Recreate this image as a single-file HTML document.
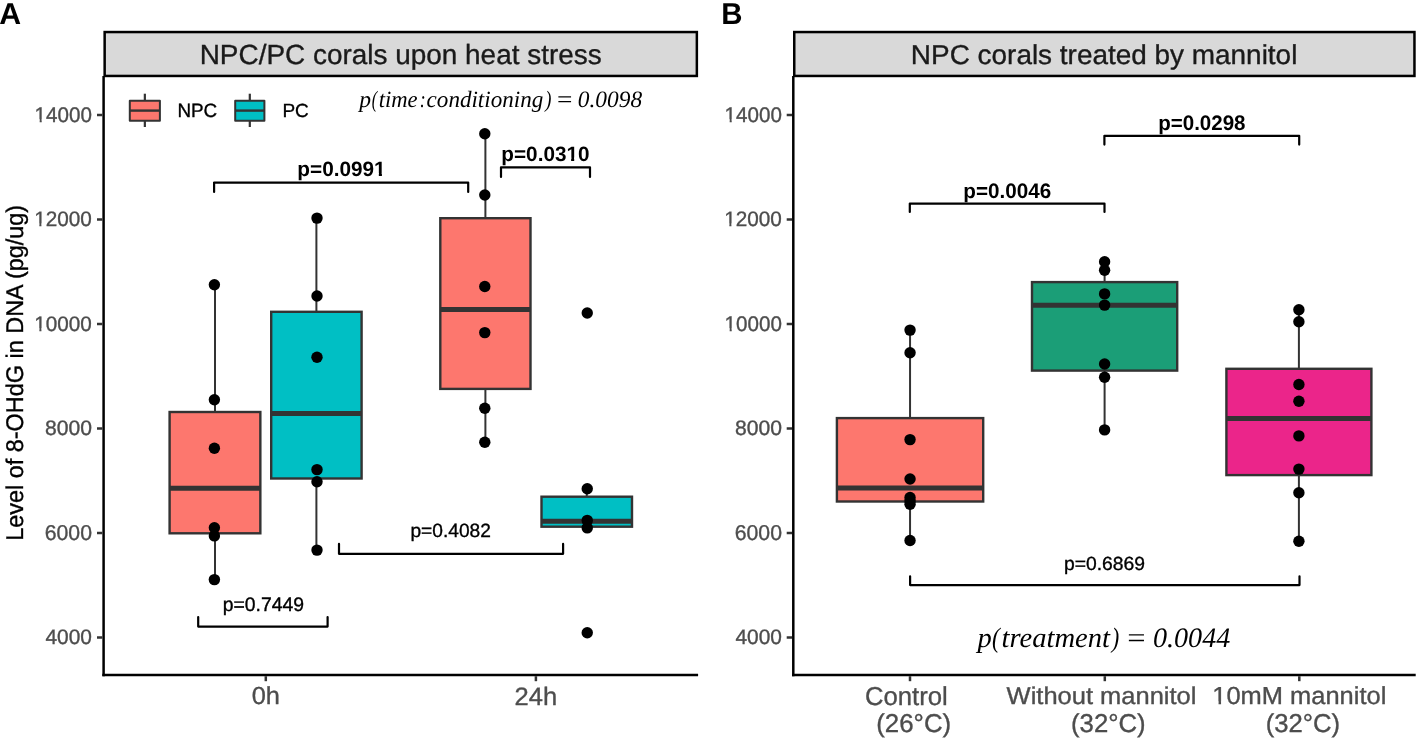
<!DOCTYPE html><html><head><meta charset="utf-8"><title>8-OHdG boxplots</title><style>html,body{margin:0;padding:0;background:#fff;overflow:hidden}svg{display:block;will-change:transform}text{text-rendering:geometricPrecision}</style></head><body>
<svg width="1418" height="741" viewBox="0 0 1418 741">
<rect width="1418" height="741" fill="#fff"/>
<text transform="translate(721.24,23.72) scale(0.9762,1)" font-family="Liberation Sans" font-size="30.124" font-weight="bold" font-style="normal" fill="#000">B</text>
<text transform="translate(-0.76,23.90) scale(1.0044,1)" font-family="Liberation Sans" font-size="30.133" font-weight="bold" font-style="normal" fill="#000">A</text>
<rect x="104.65" y="32.05" width="592.20" height="43.9" fill="#D9D9D9" stroke="#000" stroke-width="2.5"/>
<text transform="translate(199.67,63.76) scale(1.0046,1)" font-family="Liberation Sans" font-size="27.807" font-weight="normal" font-style="normal" fill="#1A1A1A" stroke="#1A1A1A" stroke-width="0.35">NPC/PC corals upon heat stress</text>
<line x1="103.6" y1="76" x2="103.6" y2="676.25" stroke="#000000" stroke-width="2.5" stroke-linecap="butt"/>
<line x1="102.35" y1="675" x2="698.1" y2="675" stroke="#000000" stroke-width="2.5" stroke-linecap="butt"/>
<line x1="97.0" y1="115" x2="102.35" y2="115" stroke="#333333" stroke-width="2.5" stroke-linecap="butt"/>
<g transform="translate(34.60,121.93) scale(0.9751,1)"><text id="one1" font-family="Liberation Sans" font-size="21.136" font-weight="normal" font-style="normal" fill="#4D4D4D" stroke="#4D4D4D" stroke-width="0.36">14000</text><rect x="0.51" y="-2.68" width="4.68" height="3.78" fill="#fff"/><rect x="7.30" y="-2.68" width="4.52" height="3.78" fill="#fff"/></g>
<line x1="97.0" y1="219.5" x2="102.35" y2="219.5" stroke="#333333" stroke-width="2.5" stroke-linecap="butt"/>
<g transform="translate(34.24,226.15) scale(0.9924,1)"><text id="one2" font-family="Liberation Sans" font-size="20.909" font-weight="normal" font-style="normal" fill="#4D4D4D" stroke="#4D4D4D" stroke-width="0.35">12000</text><rect x="0.49" y="-2.66" width="4.65" height="3.76" fill="#fff"/><rect x="7.23" y="-2.66" width="4.48" height="3.76" fill="#fff"/></g>
<line x1="97.0" y1="324" x2="102.35" y2="324" stroke="#333333" stroke-width="2.5" stroke-linecap="butt"/>
<g transform="translate(34.28,330.90) scale(0.9893,1)"><text id="one3" font-family="Liberation Sans" font-size="20.911" font-weight="normal" font-style="normal" fill="#4D4D4D" stroke="#4D4D4D" stroke-width="0.35">10000</text><rect x="0.49" y="-2.66" width="4.65" height="3.76" fill="#fff"/><rect x="7.23" y="-2.66" width="4.48" height="3.76" fill="#fff"/></g>
<line x1="97.0" y1="428.5" x2="102.35" y2="428.5" stroke="#333333" stroke-width="2.5" stroke-linecap="butt"/>
<text transform="translate(45.04,435.16) scale(1.0105,1)" font-family="Liberation Sans" font-size="20.898" font-weight="normal" font-style="normal" fill="#4D4D4D" stroke="#4D4D4D" stroke-width="0.35">8000</text>
<line x1="97.0" y1="533" x2="102.35" y2="533" stroke="#333333" stroke-width="2.5" stroke-linecap="butt"/>
<text transform="translate(44.74,540.09) scale(0.9933,1)" font-family="Liberation Sans" font-size="21.408" font-weight="normal" font-style="normal" fill="#4D4D4D" stroke="#4D4D4D" stroke-width="0.35">6000</text>
<line x1="97.0" y1="637.5" x2="102.35" y2="637.5" stroke="#333333" stroke-width="2.5" stroke-linecap="butt"/>
<text x="45.46" y="644.31" font-family="Liberation Sans" font-size="20.900" font-weight="normal" font-style="normal" fill="#4D4D4D" stroke="#4D4D4D" stroke-width="0.35">4000</text>
<line x1="265.8" y1="676.2" x2="265.8" y2="681.2" stroke="#333333" stroke-width="2.5" stroke-linecap="butt"/>
<line x1="535.9" y1="676.2" x2="535.9" y2="681.2" stroke="#333333" stroke-width="2.5" stroke-linecap="butt"/>
<rect x="794.25" y="32.05" width="620.20" height="43.9" fill="#D9D9D9" stroke="#000" stroke-width="2.5"/>
<text transform="translate(910.87,63.75) scale(1.0201,1)" font-family="Liberation Sans" font-size="27.380" font-weight="normal" font-style="normal" fill="#1A1A1A" stroke="#1A1A1A" stroke-width="0.35">NPC corals treated by mannitol</text>
<line x1="793.3" y1="76" x2="793.3" y2="676.25" stroke="#000000" stroke-width="2.5" stroke-linecap="butt"/>
<line x1="792.05" y1="675" x2="1415.7" y2="675" stroke="#000000" stroke-width="2.5" stroke-linecap="butt"/>
<line x1="786.6999999999999" y1="115" x2="792.05" y2="115" stroke="#333333" stroke-width="2.5" stroke-linecap="butt"/>
<g transform="translate(724.60,121.93) scale(0.9751,1)"><text id="one4" font-family="Liberation Sans" font-size="21.136" font-weight="normal" font-style="normal" fill="#4D4D4D" stroke="#4D4D4D" stroke-width="0.36">14000</text><rect x="0.51" y="-2.68" width="4.68" height="3.78" fill="#fff"/><rect x="7.30" y="-2.68" width="4.52" height="3.78" fill="#fff"/></g>
<line x1="786.6999999999999" y1="219.5" x2="792.05" y2="219.5" stroke="#333333" stroke-width="2.5" stroke-linecap="butt"/>
<g transform="translate(724.24,226.15) scale(0.9924,1)"><text id="one5" font-family="Liberation Sans" font-size="20.909" font-weight="normal" font-style="normal" fill="#4D4D4D" stroke="#4D4D4D" stroke-width="0.35">12000</text><rect x="0.49" y="-2.66" width="4.65" height="3.76" fill="#fff"/><rect x="7.23" y="-2.66" width="4.48" height="3.76" fill="#fff"/></g>
<line x1="786.6999999999999" y1="324" x2="792.05" y2="324" stroke="#333333" stroke-width="2.5" stroke-linecap="butt"/>
<g transform="translate(724.60,330.93) scale(0.9751,1)"><text id="one6" font-family="Liberation Sans" font-size="21.136" font-weight="normal" font-style="normal" fill="#4D4D4D" stroke="#4D4D4D" stroke-width="0.36">10000</text><rect x="0.51" y="-2.68" width="4.68" height="3.78" fill="#fff"/><rect x="7.30" y="-2.68" width="4.52" height="3.78" fill="#fff"/></g>
<line x1="786.6999999999999" y1="428.5" x2="792.05" y2="428.5" stroke="#333333" stroke-width="2.5" stroke-linecap="butt"/>
<text transform="translate(735.04,435.16) scale(1.0105,1)" font-family="Liberation Sans" font-size="20.898" font-weight="normal" font-style="normal" fill="#4D4D4D" stroke="#4D4D4D" stroke-width="0.35">8000</text>
<line x1="786.6999999999999" y1="533" x2="792.05" y2="533" stroke="#333333" stroke-width="2.5" stroke-linecap="butt"/>
<text transform="translate(734.74,540.09) scale(0.9933,1)" font-family="Liberation Sans" font-size="21.408" font-weight="normal" font-style="normal" fill="#4D4D4D" stroke="#4D4D4D" stroke-width="0.35">6000</text>
<line x1="786.6999999999999" y1="637.5" x2="792.05" y2="637.5" stroke="#333333" stroke-width="2.5" stroke-linecap="butt"/>
<text x="735.46" y="644.31" font-family="Liberation Sans" font-size="20.900" font-weight="normal" font-style="normal" fill="#4D4D4D" stroke="#4D4D4D" stroke-width="0.35">4000</text>
<line x1="910" y1="676.2" x2="910" y2="681.2" stroke="#333333" stroke-width="2.5" stroke-linecap="butt"/>
<line x1="1104.8" y1="676.2" x2="1104.8" y2="681.2" stroke="#333333" stroke-width="2.5" stroke-linecap="butt"/>
<line x1="1299.3" y1="676.2" x2="1299.3" y2="681.2" stroke="#333333" stroke-width="2.5" stroke-linecap="butt"/>
<text transform="translate(251.72,704.36) scale(1.0317,1)" font-family="Liberation Sans" font-size="24.613" font-weight="normal" font-style="normal" fill="#4D4D4D" stroke="#4D4D4D" stroke-width="0.35">0h</text>
<text transform="translate(514.61,704.76) scale(1.0147,1)" font-family="Liberation Sans" font-size="25.164" font-weight="normal" font-style="normal" fill="#4D4D4D" stroke="#4D4D4D" stroke-width="0.35">24h</text>
<text transform="translate(864.90,704.72) scale(0.9925,1)" font-family="Liberation Sans" font-size="25.900" font-weight="normal" font-style="normal" fill="#4D4D4D" stroke="#4D4D4D" stroke-width="0.35">Control</text>
<text transform="translate(876.20,732.06) scale(1.0037,1)" font-family="Liberation Sans" font-size="25.764" font-weight="normal" font-style="normal" fill="#4D4D4D" stroke="#4D4D4D" stroke-width="0.35">(26°C)</text>
<text transform="translate(1006.60,704.27) scale(1.0504,1)" font-family="Liberation Sans" font-size="24.274" font-weight="normal" font-style="normal" fill="#4D4D4D" stroke="#4D4D4D" stroke-width="0.35">Without mannitol</text>
<text x="1071.02" y="732.01" font-family="Liberation Sans" font-size="25.745" font-weight="normal" font-style="normal" fill="#4D4D4D" stroke="#4D4D4D" stroke-width="0.35">(32°C)</text>
<g transform="translate(1212.27,704.40) scale(1.0338,1)"><text id="one7" font-family="Liberation Sans" font-size="24.647" font-weight="normal" font-style="normal" fill="#4D4D4D" stroke="#4D4D4D" stroke-width="0.35">10mM mannitol</text><rect x="0.78" y="-2.94" width="5.30" height="4.04" fill="#fff"/><rect x="8.50" y="-2.94" width="5.11" height="4.04" fill="#fff"/></g>
<text transform="translate(1265.68,732.30) scale(0.9956,1)" font-family="Liberation Sans" font-size="25.815" font-weight="normal" font-style="normal" fill="#4D4D4D" stroke="#4D4D4D" stroke-width="0.35">(32°C)</text>
<text transform="translate(22.89,540.75) rotate(-90) scale(0.9709,1)" font-family="Liberation Sans" font-size="24.141" fill="#000" stroke="#000" stroke-width="0.35">Level of 8-OHdG in DNA (pg/ug)</text>
<line x1="214.97500000000002" y1="284.8" x2="214.97500000000002" y2="412" stroke="#333333" stroke-width="2.0" stroke-linecap="butt"/>
<line x1="214.97500000000002" y1="533.3" x2="214.97500000000002" y2="579.6" stroke="#333333" stroke-width="2.0" stroke-linecap="butt"/>
<rect x="169.6" y="412" width="90.75" height="121.30" fill="#FD776E" stroke="#333333" stroke-width="2.4"/>
<line x1="169.6" y1="488.3" x2="260.35" y2="488.3" stroke="#333333" stroke-width="5.0" stroke-linecap="butt"/>
<circle cx="214.38" cy="284.8" r="5.7" fill="#000"/>
<circle cx="214.38" cy="399.7" r="5.7" fill="#000"/>
<circle cx="214.38" cy="448.2" r="5.7" fill="#000"/>
<circle cx="214.38" cy="527.8" r="5.7" fill="#000"/>
<circle cx="214.38" cy="535.9" r="5.7" fill="#000"/>
<circle cx="214.38" cy="579.6" r="5.7" fill="#000"/>
<line x1="316.4" y1="218.1" x2="316.4" y2="311.8" stroke="#333333" stroke-width="2.0" stroke-linecap="butt"/>
<line x1="316.4" y1="478.5" x2="316.4" y2="550.1" stroke="#333333" stroke-width="2.0" stroke-linecap="butt"/>
<rect x="271.2" y="311.8" width="90.40" height="166.70" fill="#00BFC4" stroke="#333333" stroke-width="2.4"/>
<line x1="271.2" y1="413.5" x2="361.6" y2="413.5" stroke="#333333" stroke-width="5.0" stroke-linecap="butt"/>
<circle cx="317.00" cy="218.1" r="5.7" fill="#000"/>
<circle cx="317.00" cy="296" r="5.7" fill="#000"/>
<circle cx="317.00" cy="357.2" r="5.7" fill="#000"/>
<circle cx="317.00" cy="469.6" r="5.7" fill="#000"/>
<circle cx="317.00" cy="481.8" r="5.7" fill="#000"/>
<circle cx="317.00" cy="550.1" r="5.7" fill="#000"/>
<line x1="485.4" y1="133.8" x2="485.4" y2="218.2" stroke="#333333" stroke-width="2.0" stroke-linecap="butt"/>
<line x1="485.4" y1="388.9" x2="485.4" y2="442.3" stroke="#333333" stroke-width="2.0" stroke-linecap="butt"/>
<rect x="440.3" y="218.2" width="90.20" height="170.70" fill="#FD776E" stroke="#333333" stroke-width="2.4"/>
<line x1="440.3" y1="309.6" x2="530.5" y2="309.6" stroke="#333333" stroke-width="5.0" stroke-linecap="butt"/>
<circle cx="484.80" cy="133.8" r="5.7" fill="#000"/>
<circle cx="484.80" cy="195" r="5.7" fill="#000"/>
<circle cx="484.80" cy="286.5" r="5.7" fill="#000"/>
<circle cx="484.80" cy="332.6" r="5.7" fill="#000"/>
<circle cx="484.80" cy="408.3" r="5.7" fill="#000"/>
<circle cx="484.80" cy="442.3" r="5.7" fill="#000"/>
<line x1="586.75" y1="488.8" x2="586.75" y2="496.7" stroke="#333333" stroke-width="2.0" stroke-linecap="butt"/>
<line x1="586.75" y1="526.7" x2="586.75" y2="528.9" stroke="#333333" stroke-width="2.0" stroke-linecap="butt"/>
<rect x="541.5" y="496.7" width="90.50" height="30.00" fill="#00BFC4" stroke="#333333" stroke-width="2.4"/>
<line x1="541.5" y1="521.3" x2="632" y2="521.3" stroke="#333333" stroke-width="5.0" stroke-linecap="butt"/>
<circle cx="587.25" cy="488.8" r="5.7" fill="#000"/>
<circle cx="587.25" cy="520.4" r="5.7" fill="#000"/>
<circle cx="587.25" cy="527.9" r="5.7" fill="#000"/>
<circle cx="587.25" cy="313" r="5.7" fill="#000"/>
<circle cx="587.25" cy="632.8" r="5.7" fill="#000"/>
<line x1="144.85000000000002" y1="93.7" x2="144.85000000000002" y2="100.8" stroke="#333333" stroke-width="2.2" stroke-linecap="butt"/>
<line x1="144.85000000000002" y1="120.7" x2="144.85000000000002" y2="127" stroke="#333333" stroke-width="2.2" stroke-linecap="butt"/>
<rect x="129.8" y="100.8" width="30.10" height="19.9" fill="#FD776E" stroke="#333333" stroke-width="2.0" stroke-linejoin="round"/>
<line x1="129.8" y1="110.6" x2="159.9" y2="110.6" stroke="#333333" stroke-width="2.4" stroke-linecap="butt"/>
<line x1="249.79999999999998" y1="93.7" x2="249.79999999999998" y2="100.8" stroke="#333333" stroke-width="2.2" stroke-linecap="butt"/>
<line x1="249.79999999999998" y1="120.7" x2="249.79999999999998" y2="127" stroke="#333333" stroke-width="2.2" stroke-linecap="butt"/>
<rect x="235.2" y="100.8" width="29.20" height="19.9" fill="#00BFC4" stroke="#333333" stroke-width="2.0" stroke-linejoin="round"/>
<line x1="235.2" y1="110.6" x2="264.4" y2="110.6" stroke="#333333" stroke-width="2.4" stroke-linecap="butt"/>
<text transform="translate(177.39,117.32) scale(0.9788,1)" font-family="Liberation Sans" font-size="19.266" font-weight="normal" font-style="normal" fill="#000" stroke="#000" stroke-width="0.36">NPC</text>
<text x="282.46" y="117.09" font-family="Liberation Sans" font-size="18.976" font-weight="normal" font-style="normal" fill="#000" stroke="#000" stroke-width="0.35">PC</text>
<text transform="translate(359.32,106.80) scale(1.0076,1)" font-family="Liberation Serif" font-size="23.407" font-weight="normal" font-style="italic" fill="#000">p</text>
<text transform="translate(371.73,106.80) scale(0.6958,1)" font-family="Liberation Serif" font-size="23.407" font-weight="normal" font-style="italic" fill="#000">(</text>
<text transform="translate(378.68,106.80) scale(0.9680,1)" font-family="Liberation Serif" font-size="23.407" font-weight="normal" font-style="italic" fill="#000">time</text>
<text transform="translate(419.84,106.80) scale(0.7645,1)" font-family="Liberation Serif" font-size="23.407" font-weight="normal" font-style="italic" fill="#000">:</text>
<text transform="translate(426.61,106.80) scale(0.9861,1)" font-family="Liberation Serif" font-size="23.407" font-weight="normal" font-style="italic" fill="#000">conditioning</text>
<text transform="translate(545.13,106.80) scale(0.7925,1)" font-family="Liberation Serif" font-size="23.407" font-weight="normal" font-style="italic" fill="#000">)</text>
<text transform="translate(557.03,106.80) scale(1.1668,1)" font-family="Liberation Serif" font-size="23.407" font-weight="normal" font-style="normal" fill="#000">=</text>
<text x="577.76" y="106.80" font-family="Liberation Serif" font-size="23.407" font-weight="normal" font-style="italic" fill="#000">0.0098</text>
<text transform="translate(977.51,646.60) scale(1.0132,1)" font-family="Liberation Serif" font-size="28.119" font-weight="normal" font-style="italic" fill="#000">p</text>
<text transform="translate(991.98,646.60) scale(0.8332,1)" font-family="Liberation Serif" font-size="28.119" font-weight="normal" font-style="italic" fill="#000">(</text>
<text transform="translate(1001.51,646.60) scale(1.0169,1)" font-family="Liberation Serif" font-size="28.119" font-weight="normal" font-style="italic" fill="#000">treatment</text>
<text transform="translate(1111.80,646.60) scale(0.7937,1)" font-family="Liberation Serif" font-size="28.119" font-weight="normal" font-style="italic" fill="#000">)</text>
<text transform="translate(1127.18,646.60) scale(1.1548,1)" font-family="Liberation Serif" font-size="28.119" font-weight="normal" font-style="normal" fill="#000">=</text>
<text x="1152.98" y="646.60" font-family="Liberation Serif" font-size="28.119" font-weight="normal" font-style="italic" fill="#000">0.0044</text>
<path d="M214.1,191.9 L214.1,182.6 L468.2,182.6 L468.2,191.9" fill="none" stroke="#000" stroke-width="2.2" stroke-linejoin="round" stroke-linecap="round"/>
<g transform="translate(297.33,176.40) scale(1.0009,1)"><text id="one8" font-family="Liberation Sans" font-size="20.751" font-weight="bold" font-style="normal" fill="#000">p=0.0991</text><rect x="76.91" y="-3.22" width="4.52" height="4.32" fill="#fff"/><rect x="84.51" y="-3.22" width="4.25" height="4.32" fill="#fff"/></g>
<path d="M501,176.9 L501,167.3 L590,167.3 L590,176.9" fill="none" stroke="#000" stroke-width="2.2" stroke-linejoin="round" stroke-linecap="round"/>
<g transform="translate(501.37,160.65) scale(1.0010,1)"><text id="one9" font-family="Liberation Sans" font-size="20.708" font-weight="bold" font-style="normal" fill="#000">p=0.0310</text><rect x="65.17" y="-3.21" width="4.51" height="4.31" fill="#fff"/><rect x="72.76" y="-3.21" width="4.25" height="4.31" fill="#fff"/></g>
<path d="M198.2,617 L198.2,626.6 L327.6,626.6 L327.6,617" fill="none" stroke="#000" stroke-width="2.2" stroke-linejoin="round" stroke-linecap="round"/>
<text transform="translate(222.69,610.78) scale(0.9903,1)" font-family="Liberation Sans" font-size="19.575" font-weight="normal" font-style="normal" fill="#000" stroke="#000" stroke-width="0.35">p=0.7449</text>
<path d="M339,543.9 L339,553.8 L563.1,553.8 L563.1,543.9" fill="none" stroke="#000" stroke-width="2.2" stroke-linejoin="round" stroke-linecap="round"/>
<text transform="translate(410.46,537.48) scale(0.9960,1)" font-family="Liberation Sans" font-size="19.242" font-weight="normal" font-style="normal" fill="#000" stroke="#000" stroke-width="0.35">p=0.4082</text>
<line x1="910.05" y1="330.1" x2="910.05" y2="418.1" stroke="#333333" stroke-width="2.0" stroke-linecap="butt"/>
<line x1="910.05" y1="501.5" x2="910.05" y2="540.5" stroke="#333333" stroke-width="2.0" stroke-linecap="butt"/>
<rect x="836.9" y="418.1" width="146.30" height="83.40" fill="#FD776E" stroke="#333333" stroke-width="2.4"/>
<line x1="836.9" y1="488" x2="983.2" y2="488" stroke="#333333" stroke-width="5.0" stroke-linecap="butt"/>
<circle cx="910.05" cy="330.1" r="5.7" fill="#000"/>
<circle cx="910.05" cy="352.8" r="5.7" fill="#000"/>
<circle cx="910.05" cy="439.6" r="5.7" fill="#000"/>
<circle cx="910.05" cy="479" r="5.7" fill="#000"/>
<circle cx="910.05" cy="497.5" r="5.7" fill="#000"/>
<circle cx="910.05" cy="501" r="5.7" fill="#000"/>
<circle cx="910.05" cy="504.3" r="5.7" fill="#000"/>
<circle cx="910.05" cy="540.5" r="5.7" fill="#000"/>
<line x1="1104.6" y1="261.8" x2="1104.6" y2="282.1" stroke="#333333" stroke-width="2.0" stroke-linecap="butt"/>
<line x1="1104.6" y1="370.6" x2="1104.6" y2="429.9" stroke="#333333" stroke-width="2.0" stroke-linecap="butt"/>
<rect x="1032" y="282.1" width="145.20" height="88.50" fill="#1B9E77" stroke="#333333" stroke-width="2.4"/>
<line x1="1032" y1="305.2" x2="1177.2" y2="305.2" stroke="#333333" stroke-width="5.0" stroke-linecap="butt"/>
<circle cx="1104.60" cy="261.8" r="5.7" fill="#000"/>
<circle cx="1104.60" cy="270.2" r="5.7" fill="#000"/>
<circle cx="1104.60" cy="293.9" r="5.7" fill="#000"/>
<circle cx="1104.60" cy="305.1" r="5.7" fill="#000"/>
<circle cx="1104.60" cy="364" r="5.7" fill="#000"/>
<circle cx="1104.60" cy="377.3" r="5.7" fill="#000"/>
<circle cx="1104.60" cy="429.9" r="5.7" fill="#000"/>
<line x1="1298.9" y1="309.8" x2="1298.9" y2="368.8" stroke="#333333" stroke-width="2.0" stroke-linecap="butt"/>
<line x1="1298.9" y1="475.1" x2="1298.9" y2="541.2" stroke="#333333" stroke-width="2.0" stroke-linecap="butt"/>
<rect x="1226.4" y="368.8" width="145.00" height="106.30" fill="#EB258A" stroke="#333333" stroke-width="2.4"/>
<line x1="1226.4" y1="418.6" x2="1371.4" y2="418.6" stroke="#333333" stroke-width="5.0" stroke-linecap="butt"/>
<circle cx="1298.90" cy="309.8" r="5.7" fill="#000"/>
<circle cx="1298.90" cy="321.7" r="5.7" fill="#000"/>
<circle cx="1298.90" cy="384.5" r="5.7" fill="#000"/>
<circle cx="1298.90" cy="401.2" r="5.7" fill="#000"/>
<circle cx="1298.90" cy="435.9" r="5.7" fill="#000"/>
<circle cx="1298.90" cy="469.1" r="5.7" fill="#000"/>
<circle cx="1298.90" cy="492.8" r="5.7" fill="#000"/>
<circle cx="1298.90" cy="541.2" r="5.7" fill="#000"/>
<path d="M909.8,212 L909.8,203.6 L1104.5,203.6 L1104.5,212" fill="none" stroke="#000" stroke-width="2.2" stroke-linejoin="round" stroke-linecap="round"/>
<text transform="translate(963.36,197.59) scale(0.9839,1)" font-family="Liberation Sans" font-size="20.989" font-weight="bold" font-style="normal" fill="#000">p=0.0046</text>
<path d="M1104.4,144.6 L1104.4,135.8 L1299.2,135.8 L1299.2,144.6" fill="none" stroke="#000" stroke-width="2.2" stroke-linejoin="round" stroke-linecap="round"/>
<text transform="translate(1158.19,129.61) scale(0.9775,1)" font-family="Liberation Sans" font-size="21.011" font-weight="bold" font-style="normal" fill="#000">p=0.0298</text>
<path d="M910.1,576.3 L910.1,585.1 L1299.5,585.1 L1299.5,576.3" fill="none" stroke="#000" stroke-width="2.2" stroke-linejoin="round" stroke-linecap="round"/>
<text transform="translate(1063.96,569.66) scale(1.0134,1)" font-family="Liberation Sans" font-size="19.067" font-weight="normal" font-style="normal" fill="#000" stroke="#000" stroke-width="0.35">p=0.6869</text>
</svg></body></html>
